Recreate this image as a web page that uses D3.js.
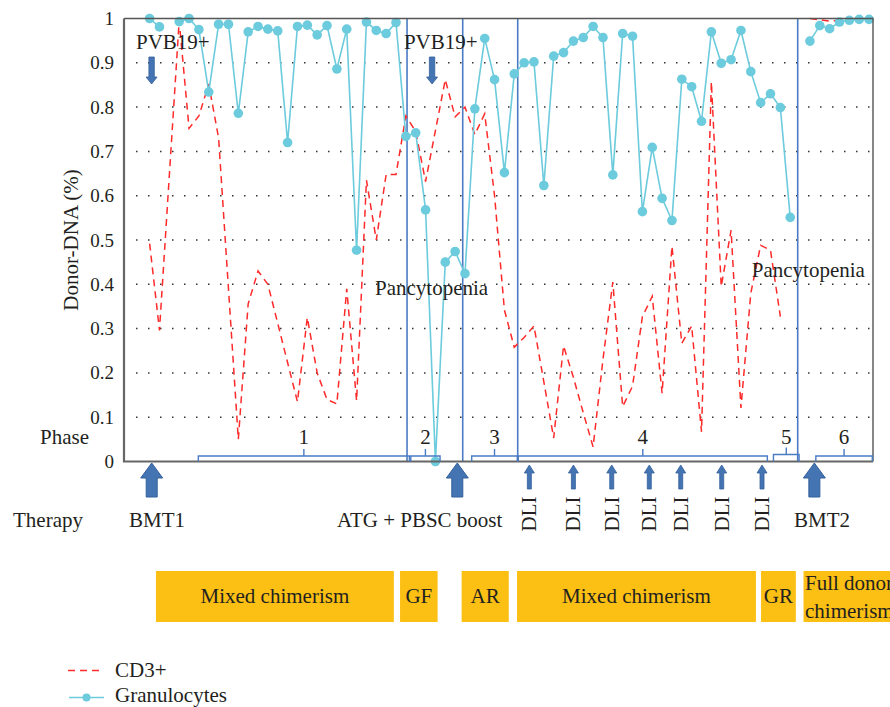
<!DOCTYPE html>
<html>
<head>
<meta charset="utf-8">
<script src="https://d3js.org/d3.v7.min.js"></script>
<style>
  body { margin: 0; background: #fff; }
  svg text { font-family: "Liberation Serif", "DejaVu Serif", serif; fill: #231f20; }
</style>
</head>
<body>
<svg id="chart" width="890" height="707"></svg>
<script>
// sample index (time) and donor fraction
var granTime = d3.range(0, 74);
var granValues = [1.0, 0.981, null, 0.993, 1.0, 0.975, 0.834, 0.987, 0.987, 0.786,
  0.97, 0.982, 0.976, 0.972, 0.72, 0.982, 0.985, 0.963, 0.984, 0.886,
  0.976, 0.477, 0.992, 0.973, 0.966, 0.991, 0.734, 0.742, 0.568, 0.0,
  0.45, 0.474, 0.424, 0.796, 0.955, 0.862, 0.652, 0.875, 0.9, 0.902,
  0.623, 0.915, 0.923, 0.949, 0.957, 0.982, 0.957, 0.647, 0.966, 0.96,
  0.564, 0.709, 0.594, 0.544, 0.863, 0.846, 0.768, 0.97, 0.899, 0.907,
  0.973, 0.88, 0.81, 0.83, 0.799, 0.551, null, 0.949, 0.984, 0.977,
  0.992, 0.996, 0.998, 0.998];

var cd3Time = [0, 1, 3, 4, 5, 6, 7, 9, 10, 11, 12, 15, 16, 17, 18, 19, 20, 21, 22, 23,
  24, 25, 26, 27, 28, 30, 31, 32, 33, 34, 35, 36, 37, 38, 39, 40, 41, 42, 43, 44,
  45, 46, 47, 48, 49, 50, 51, 52, 53, 54, 55, 56, 57, 58, 59, 60, 61, 62, 63, 64,
  null, 67, 68, 69, 70, 71, 72, 73];
var cd3Values = [0.492, 0.296, 0.995, 0.752, 0.78, 0.852, 0.73, 0.05, 0.356, 0.43, 0.40, 0.135, 0.325, 0.20, 0.14, 0.13, 0.39, 0.137, 0.635, 0.50,
  0.648, 0.648, 0.78, 0.745, 0.632, 0.862, 0.778, 0.80, 0.738, 0.785, 0.60, 0.342, 0.258, 0.28, 0.306, 0.18, 0.053, 0.261, 0.19, 0.11,
  0.033, 0.23, 0.405, 0.124, 0.17, 0.327, 0.373, 0.154, 0.486, 0.267, 0.306, 0.067, 0.857, 0.395, 0.522, 0.121, 0.38, 0.488, 0.477, 0.327,
  null, 1.0, 0.997, 0.994, 0.996, 0.998, 0.999, 0.999];

var yTicks = [0, 0.1, 0.2, 0.3, 0.4, 0.5, 0.6, 0.7, 0.8, 0.9, 1];

var phaseNames = ["1", "2", "3", "4", "5", "6"];
var phaseStart = [4.94, 26.5, 32.68, 37.41, 63.3, 67.6];
var phaseEnd = [26.36, 29.47, 37.31, 62.68, 65.9, 73.33];
var phaseLines = [26.12, 31.77, 37.35, 65.76];

var bigArrowTime = [0.21, 31.22, 67.45];
var bigArrowNames = ["BMT1", "ATG + PBSC boost", "BMT2"];
var bigArrowLabelTime = [-2.08, 19.02, 65.38];
var dliTime = [38.53, 43.0, 46.89, 50.7, 53.89, 58.05, 62.14];

var statusNames = ["Mixed chimerism", "GF", "AR", "Mixed chimerism", "GR", "Full donor|chimerism"];
var statusStart = [0.64, 25.41, 31.66, 37.28, 62.04, 66.35];
var statusEnd = [24.78, 29.22, 36.44, 61.52, 65.57, 76];

var pvbTime = [0.2, 28.66];
var pvbLabelTime = [-1.38, 25.8];
var pancyTime = [22.87, 61.1];
var pancyLevel = [0.376, 0.416];

// layout
var plotLeft = 124, plotRight = 873, plotTop = 18.5, plotBottom = 461.5;
var fs = "21px";
var svg = d3.select("#chart");

var x = d3.scaleLinear().domain([-2.6, 73.4]).range([plotLeft, plotRight]);
var y = d3.scaleLinear().domain([0, 1]).range([plotBottom, plotTop]);

var blue = "#4a7bc4", arrowFill = "#4574b3", arrowStroke = "#33609c";
var cyan = "#6ccbdc", red = "#ff2a2a";

// dotted grid
svg.append("g").selectAll("line")
  .data(yTicks.filter(function(d) { return d > 0 && d < 1; }))
  .enter().append("line")
  .attr("x1", 136).attr("x2", plotRight)
  .attr("y1", function(d) { return y(d); }).attr("y2", function(d) { return y(d); })
  .attr("stroke", "#333").attr("stroke-width", 1.5)
  .attr("stroke-dasharray", "1.5,10.5");

// y axis labels
var yAxis = svg.append("g")
  .attr("transform", "translate(" + plotLeft + ",0)")
  .call(d3.axisLeft(y).tickValues(yTicks).tickSize(0).tickPadding(10)
    .tickFormat(function(d) { return (d === 0 || d === 1) ? d : d.toFixed(1); }));
yAxis.select(".domain").remove();
yAxis.selectAll("text").style("font-size", "19px").style("font-family", "Liberation Serif").attr("fill", "#231f20");

svg.append("text")
  .attr("transform", "translate(78," + ((plotTop + plotBottom) / 2) + ") rotate(-90)")
  .attr("text-anchor", "middle").style("font-size", fs)
  .text("Donor-DNA (%)");

// phase separators
svg.append("g").selectAll("line").data(phaseLines).enter().append("line")
  .attr("x1", function(d) { return x(d); }).attr("x2", function(d) { return x(d); })
  .attr("y1", plotTop).attr("y2", plotBottom)
  .attr("stroke", blue).attr("stroke-width", 1.6);

// CD3+ line
var cd3 = cd3Time.map(function(t, i) { return { t: t, v: cd3Values[i] }; });
var line = d3.line()
  .defined(function(d) { return d.v != null && d.t != null; })
  .x(function(d) { return x(d.t); })
  .y(function(d) { return y(d.v); });

svg.append("path").datum(cd3)
  .attr("d", line).attr("fill", "none")
  .attr("stroke", red).attr("stroke-width", 1.5).attr("stroke-dasharray", "7,5");

// granulocytes
var gran = granTime.map(function(t, i) { return { t: t, v: granValues[i] }; });
svg.append("path").datum(gran)
  .attr("d", line).attr("fill", "none")
  .attr("stroke", cyan).attr("stroke-width", 1.6);
svg.append("g").selectAll("circle")
  .data(gran.filter(function(d) { return d.v != null; }))
  .enter().append("circle")
  .attr("cx", function(d) { return x(d.t); })
  .attr("cy", function(d) { return y(d.v); })
  .attr("r", 4.8).attr("fill", cyan);

// frame
svg.append("path")
  .attr("d", "M" + plotLeft + "," + plotTop + "H" + plotRight + "V" + plotBottom)
  .attr("fill", "none").attr("stroke", "#555").attr("stroke-width", 1.4);
svg.append("path")
  .attr("d", "M" + plotLeft + "," + plotTop + "V" + plotBottom + "H" + plotRight)
  .attr("fill", "none").attr("stroke", "#666").attr("stroke-width", 2.2);

// phase brackets
var ph = svg.append("g");
phaseNames.forEach(function(name, i) {
  var x0 = x(phaseStart[i]), x1 = x(phaseEnd[i]), xm = (x0 + x1) / 2;
  var yb = i === 4 ? 454.5 : 456;
  ph.append("path")
    .attr("d", "M" + x0 + "," + plotBottom + "V" + yb + "H" + x1 + "V" + plotBottom +
      "M" + xm + "," + yb + "V" + (yb - 7))
    .attr("fill", "none").attr("stroke", blue).attr("stroke-width", 1.4);
  ph.append("text").attr("x", xm).attr("y", 444)
    .attr("text-anchor", "middle").style("font-size", fs).text(name);
});
svg.append("text").attr("x", 40).attr("y", 444).style("font-size", fs).text("Phase");

// arrow shapes
function upArrow(cx, tip, len, headW, headH, shaftW) {
  return "M" + cx + "," + tip +
    "L" + (cx + headW) + "," + (tip + headH) +
    "L" + (cx + shaftW) + "," + (tip + headH) +
    "L" + (cx + shaftW) + "," + (tip + len) +
    "L" + (cx - shaftW) + "," + (tip + len) +
    "L" + (cx - shaftW) + "," + (tip + headH) +
    "L" + (cx - headW) + "," + (tip + headH) + "Z";
}
function downArrow(cx, tip, len, headW, headH, shaftW) {
  return "M" + cx + "," + tip +
    "L" + (cx + headW) + "," + (tip - headH) +
    "L" + (cx + shaftW) + "," + (tip - headH) +
    "L" + (cx + shaftW) + "," + (tip - len) +
    "L" + (cx - shaftW) + "," + (tip - len) +
    "L" + (cx - shaftW) + "," + (tip - headH) +
    "L" + (cx - headW) + "," + (tip - headH) + "Z";
}

var th = svg.append("g");
bigArrowTime.forEach(function(t, i) {
  th.append("path").attr("d", upArrow(x(t), 463, 34, 11, 15, 5.5))
    .attr("fill", arrowFill).attr("stroke", arrowStroke).attr("stroke-width", 1);
  th.append("text").attr("x", x(bigArrowLabelTime[i])).attr("y", 527)
    .style("font-size", fs).text(bigArrowNames[i]);
});
dliTime.forEach(function(t) {
  th.append("path").attr("d", upArrow(x(t), 465, 24, 5, 8, 2))
    .attr("fill", arrowFill).attr("stroke", arrowStroke).attr("stroke-width", 0.8);
  th.append("text")
    .attr("transform", "translate(" + (x(t) + 7) + ",514) rotate(-90)")
    .attr("text-anchor", "middle").style("font-size", fs).text("DLI");
});
svg.append("text").attr("x", 13).attr("y", 527).style("font-size", fs).text("Therapy");

// PVB19+ and pancytopenia notes
pvbTime.forEach(function(t, i) {
  svg.append("text").attr("x", x(pvbLabelTime[i])).attr("y", 49)
    .style("font-size", fs).text("PVB19+");
  svg.append("path").attr("d", downArrow(x(t), 84, 27, 5.5, 7, 2.7))
    .attr("fill", arrowFill).attr("stroke", arrowStroke).attr("stroke-width", 0.8);
});
pancyTime.forEach(function(t, i) {
  svg.append("text").attr("x", x(t)).attr("y", y(pancyLevel[i]))
    .style("font-size", fs).text("Pancytopenia");
});

// chimerism status boxes (last one runs off the right edge, as in the figure)
var st = svg.append("g");
statusNames.forEach(function(name, i) {
  var x0 = x(statusStart[i]), x1 = x(statusEnd[i]);
  st.append("rect").attr("x", x0).attr("y", 571)
    .attr("width", x1 - x0).attr("height", 51).attr("fill", "#fcbf13");
  var parts = name.split("|");
  if (parts.length === 1) {
    st.append("text").attr("x", (x0 + x1) / 2).attr("y", 603)
      .attr("text-anchor", "middle").style("font-size", fs).text(name);
  } else {
    st.append("text").attr("x", x0 + 1.5).attr("y", 590).style("font-size", fs).text(parts[0]);
    st.append("text").attr("x", x0 + 1.5).attr("y", 618).style("font-size", fs).text(parts[1]);
  }
});

// legend
var lg = svg.append("g");
lg.append("line").attr("x1", 68).attr("x2", 104).attr("y1", 670.5).attr("y2", 670.5)
  .attr("stroke", red).attr("stroke-width", 1.5).attr("stroke-dasharray", "7,5");
lg.append("text").attr("x", 115).attr("y", 677).style("font-size", fs).text("CD3+");
lg.append("line").attr("x1", 69).attr("x2", 104).attr("y1", 697.5).attr("y2", 697.5)
  .attr("stroke", cyan).attr("stroke-width", 1.6);
lg.append("circle").attr("cx", 86.5).attr("cy", 697.5).attr("r", 4).attr("fill", cyan);
lg.append("text").attr("x", 115).attr("y", 702).style("font-size", fs).text("Granulocytes");
</script>
</body>
</html>
